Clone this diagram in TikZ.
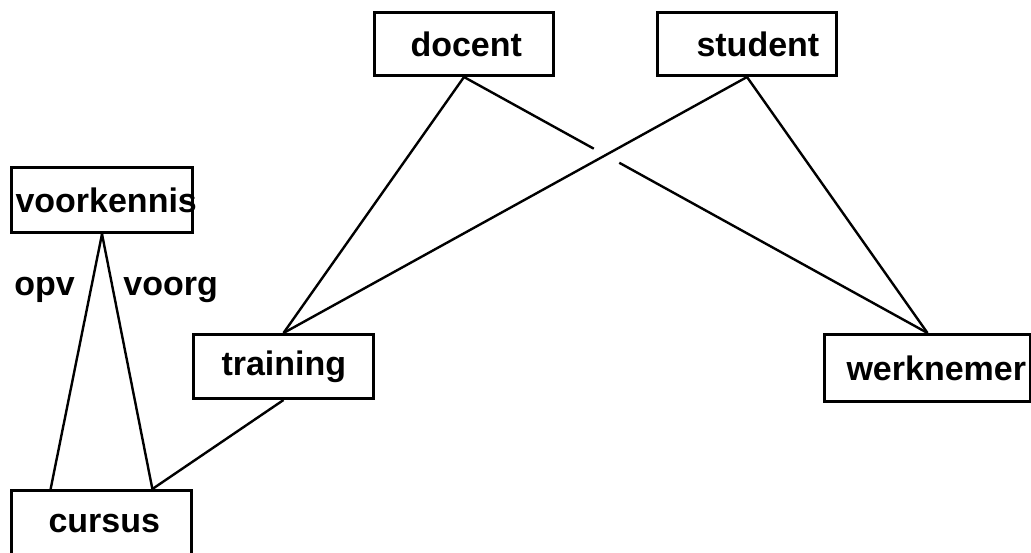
\documentclass[tikz,border=0pt]{standalone}
\usepackage{fontspec}
\setmainfont{Liberation Sans}
\usetikzlibrary{calc}

\newlength{\du}
\setlength{\du}{0.5pt}

\tikzset{
  entbox/.style={draw, line width=1.5pt, inner sep=0pt, anchor=north west,
    align=left, font=\fontsize{17}{20}\selectfont\bfseries},
  rol/.style={inner sep=0pt, anchor=base west,
    font=\fontsize{17}{20}\selectfont\bfseries},
  lijn/.style={line width=1.2pt}
}

\begin{document}
\begin{tikzpicture}[x=\du, y=-\du]
\useasboundingbox (0,0) rectangle (1031,552);
\clip (0,0) rectangle (1031,552);
% entiteiten
\node[entbox, text width=179\du, minimum height=63\du] (docent) at (373,11) {\hspace*{36\du}\mbox{docent}};
\node[entbox, text width=179\du, minimum height=63\du] (student) at (656,11) {\hspace*{39\du}\mbox{student}};
\node[entbox, text width=181\du, minimum height=65\du] (voorkennis) at (10,166) {\hspace*{4\du}\mbox{voorkennis}};
\node[entbox, text width=180\du, minimum height=64\du] (training) at (192,333) {\hspace*{28\du}\mbox{training}};
\node[entbox, text width=206\du, minimum height=67\du] (werknemer) at (823,333) {\hspace*{22\du}\mbox{werknemer}};
\node[entbox, text width=180\du, minimum height=65\du] (cursus) at (10,489) {\hspace*{37\du}\mbox{cursus}};
% rollen
\node[rol] (opv) at (14,295) {opv};
\node[rol] (voorg) at (123,295) {voorg};
% verbindingen
\coordinate (cursusl) at ($(cursus.north west)!0.222!(cursus.north east)$);
\coordinate (cursusr) at ($(cursus.north west)!0.778!(cursus.north east)$);
\draw[lijn] (docent.south) -- (training.north);
\draw[lijn] (student.south) -- (training.north);
\draw[lijn] (student.south) -- (werknemer.north);
\draw[lijn] (docent.south) -- ($(docent.south)!0.28!(werknemer.north)$);
\draw[lijn] ($(docent.south)!0.335!(werknemer.north)$) -- (werknemer.north);
\draw[lijn] (voorkennis.south) -- (cursusl);
\draw[lijn] (voorkennis.south) -- (cursusr);
\draw[lijn] (training.south) -- (cursusr);
\end{tikzpicture}
\end{document}
